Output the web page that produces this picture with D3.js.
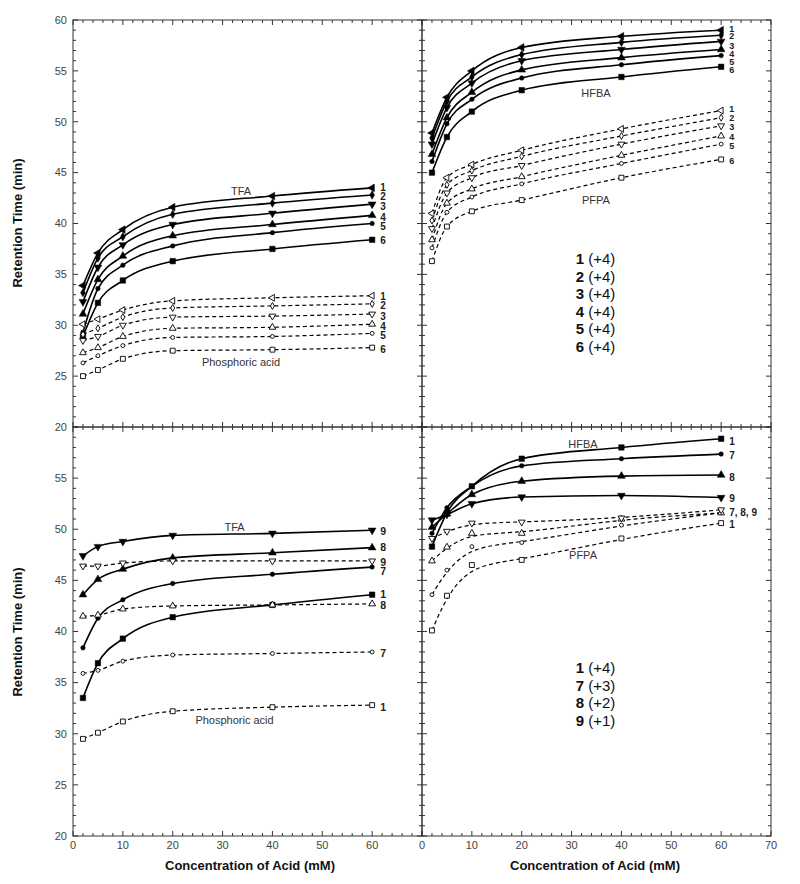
<!DOCTYPE html>
<html>
<head>
<meta charset="utf-8">
<script src="https://cdn.jsdelivr.net/npm/d3@7"></script>
<style>
body { margin: 0; background: #fff; }
text { font-family: Arial, "Liberation Sans", sans-serif; }
</style>
</head>
<body>
<div id="chart"></div>
<script>
// acid concentration (mM)
var conc = [2, 5, 10, 20, 40, 60];

var compoundsTop = ['1', '2', '3', '4', '5', '6'];
var compoundsBottom = ['1', '7', '8', '9'];
var chargeTop = ['(+4)', '(+4)', '(+4)', '(+4)', '(+4)', '(+4)'];
var chargeBottom = ['(+4)', '(+3)', '(+2)', '(+1)'];

// retention time (min), compounds 1-6
var tfaTop = [
    [33.9, 37.1, 39.4, 41.6, 42.7, 43.5],
    [33.2, 36.6, 38.7, 40.9, 42.0, 42.8],
    [32.3, 35.7, 37.9, 39.9, 41.0, 41.9],
    [31.1, 34.5, 36.8, 38.8, 39.9, 40.8],
    [29.3, 33.6, 35.9, 37.8, 39.1, 40.0],
    [28.9, 32.2, 34.4, 36.3, 37.5, 38.4]
];
var phosTop = [
    [30.1, 30.6, 31.5, 32.4, 32.7, 32.9],
    [29.1, 29.7, 30.8, 31.7, 31.9, 32.1],
    [28.5, 28.9, 30.0, 30.8, 30.9, 31.1],
    [27.3, 27.8, 28.9, 29.7, 29.8, 30.1],
    [26.3, 27.0, 28.0, 28.8, 28.9, 29.2],
    [25.0, 25.6, 26.7, 27.5, 27.6, 27.8]
];
var hfbaTop = [
    [48.9, 52.4, 55.0, 57.3, 58.4, 59.0],
    [48.4, 52.0, 54.4, 56.6, 57.8, 58.5],
    [47.8, 51.4, 53.8, 56.0, 57.1, 57.9],
    [46.8, 50.4, 52.9, 55.1, 56.3, 57.1],
    [46.1, 49.8, 52.2, 54.3, 55.6, 56.5],
    [45.0, 48.5, 51.0, 53.1, 54.4, 55.4]
];
var pfpaTop = [
    [41.0, 44.5, 45.8, 47.2, 49.3, 51.1],
    [40.3, 43.8, 45.2, 46.6, 48.6, 50.4],
    [39.5, 43.0, 44.5, 45.7, 47.8, 49.6],
    [38.4, 42.0, 43.4, 44.6, 46.7, 48.6],
    [37.6, 41.1, 42.6, 43.9, 45.9, 47.8],
    [36.3, 39.7, 41.2, 42.3, 44.5, 46.3]
];

// retention time (min), compounds 1, 7, 8, 9
var tfaBottom = [
    [33.5, 36.9, 39.3, 41.4, 42.6, 43.6],
    [38.4, 41.3, 43.1, 44.7, 45.6, 46.3],
    [43.6, 45.1, 46.1, 47.2, 47.7, 48.2],
    [47.4, 48.3, 48.8, 49.4, 49.6, 49.9]
];
var phosBottom = [
    [29.5, 30.1, 31.2, 32.2, 32.6, 32.8],
    [35.9, 36.2, 37.1, 37.7, 37.85, 38.0],
    [41.5, 41.6, 42.2, 42.5, 42.6, 42.7],
    [46.4, 46.4, 46.7, 46.9, 46.9, 46.9]
];
var hfbaBottom = [
    [48.3, 51.6, 54.2, 56.9, 58.0, 58.85],
    [49.6, 52.1, 54.2, 56.2, 56.9, 57.35],
    [50.2, 51.5, 53.4, 54.7, 55.2, 55.3],
    [50.9, 51.45, 52.5, 53.15, 53.3, 53.1]
];
var pfpaBottom = [
    [40.1, 43.5, 46.5, 47.0, 49.1, 50.6],
    [43.6, 46.0, 48.3, 48.7, 50.4, 51.6],
    [46.9, 48.25, 49.6, 49.6, 51.0, 51.6],
    [49.1, 49.8, 50.6, 50.7, 51.1, 51.9]
];

// where the compound numbers sit at the right end (min)
var tagsTfaTop = [43.5, 42.7, 41.7, 40.6, 39.7, 38.3];
var tagsPhosTop = [32.85, 31.9, 30.9, 29.9, 29.0, 27.6];
var tagsHfbaTop = [59.1, 58.4, 57.5, 56.7, 55.9, 55.1];
var tagsPfpaTop = [51.3, 50.4, 49.5, 48.5, 47.6, 46.2];
var tagsTfaBottom = [43.6, 45.9, 48.2, 49.8];
var tagsPhosBottom = [32.6, 37.9, 42.6, 46.8];
var tagsHfbaBottom = [58.6, 57.2, 55.1, 53.05];
var tagsPfpaBottom = [50.5, 51.6];
var namesPfpaBottom = ['1', '7, 8, 9'];

var yTicks = [20, 25, 30, 35, 40, 45, 50, 55, 60];
var xTicks = [0, 10, 20, 30, 40, 50, 60, 70];

var shapesTop = ['left', 'diamond', 'down', 'up', 'circle', 'square'];
var shapesBottom = ['square', 'circle', 'up', 'down'];

var symbolType = {
    left: d3.symbolTriangle, down: d3.symbolTriangle, up: d3.symbolTriangle,
    diamond: d3.symbolDiamond, circle: d3.symbolCircle, square: d3.symbolSquare
};
var symbolTurn = { left: -90, down: 180, up: 0, diamond: 0, circle: 0, square: 0 };
var filledSize = { left: 26, down: 26, up: 26, diamond: 20, circle: 16, square: 30 };
var hollowSize = { left: 20, down: 20, up: 20, diamond: 14, circle: 12, square: 24 };

function group(values, names, tags, shapes, filled, curve) {
    return values.map(function(v, i) {
        return { values: v, name: names[i], tag: tags[i], shape: shapes[i], filled: filled, curve: curve };
    });
}

var panels = [
    {
        x0: 73, x1: 422, y0: 20, y1: 427, tagSize: 10,
        series: group(tfaTop, compoundsTop, tagsTfaTop, shapesTop, true, d3.curveMonotoneX)
            .concat(group(phosTop, compoundsTop, tagsPhosTop, shapesTop, false, d3.curveMonotoneX)),
        notes: [['TFA', 33.7, 43.2], ['Phosphoric acid', 33.7, 26.4]],
        yLabels: yTicks, xLabels: []
    },
    {
        x0: 422, x1: 771, y0: 20, y1: 427, tagSize: 9,
        series: group(hfbaTop, compoundsTop, tagsHfbaTop, shapesTop, true, d3.curveMonotoneX)
            .concat(group(pfpaTop, compoundsTop, tagsPfpaTop, shapesTop, false, d3.curveMonotoneX)),
        notes: [['HFBA', 34.9, 52.8], ['PFPA', 34.9, 42.3]],
        legend: { names: compoundsTop, charges: chargeTop, top: 259 },
        yLabels: [], xLabels: []
    },
    {
        x0: 73, x1: 422, y0: 427, y1: 836, tagSize: 10.5,
        series: group(tfaBottom, compoundsBottom, tagsTfaBottom, shapesBottom, true, d3.curveMonotoneX)
            .concat(group(phosBottom, compoundsBottom, tagsPhosBottom, shapesBottom, false, d3.curveMonotoneX)),
        notes: [['TFA', 32.4, 50.2], ['Phosphoric acid', 32.4, 31.3]],
        yLabels: yTicks.slice(0, 8), xLabels: xTicks.slice(0, 7)
    },
    {
        x0: 422, x1: 771, y0: 427, y1: 836, tagSize: 10,
        series: group(hfbaBottom, compoundsBottom, tagsHfbaBottom, shapesBottom, true, d3.curveMonotoneX)
            .concat(group(pfpaBottom, namesPfpaBottom, tagsPfpaBottom, shapesBottom, false, d3.curveBasis)),
        notes: [['HFBA', 32.3, 58.3], ['PFPA', 32.3, 47.5]],
        legend: { names: compoundsBottom, charges: chargeBottom, top: 668 },
        yLabels: [], xLabels: xTicks
    }
];

var svg = d3.select('#chart')
    .append('svg')
    .attr('width', 800)
    .attr('height', 884);

var axisColor = '#333';

panels.forEach(function(p) {
    var x = d3.scaleLinear().domain([0, 70]).range([p.x0, p.x1]);
    var y = d3.scaleLinear().domain([20, 60]).range([p.y1, p.y0]);
    var g = svg.append('g');

    // frame with inward ticks on every side
    g.append('rect')
        .attr('x', p.x0).attr('y', p.y0)
        .attr('width', p.x1 - p.x0).attr('height', p.y1 - p.y0)
        .attr('fill', 'none').attr('stroke', axisColor).attr('stroke-width', 1);

    var xt = d3.range(0, 71, 2);
    var yt = d3.range(20, 61, 1);
    g.selectAll('.xt').data(xt).enter().append('path')
        .attr('d', function(d) {
            var len = d % 10 === 0 ? 5 : 3;
            var px = x(d);
            return 'M' + px + ',' + p.y1 + 'v' + (-len) + 'M' + px + ',' + p.y0 + 'v' + len;
        })
        .attr('stroke', axisColor).attr('stroke-width', 1);
    g.selectAll('.yt').data(yt).enter().append('path')
        .attr('d', function(d) {
            var len = d % 5 === 0 ? 5 : 3;
            var py = y(d);
            return 'M' + p.x0 + ',' + py + 'h' + len + 'M' + p.x1 + ',' + py + 'h' + (-len);
        })
        .attr('stroke', axisColor).attr('stroke-width', 1);

    g.selectAll('.yl').data(p.yLabels).enter().append('text')
        .attr('x', p.x0 - 6).attr('y', function(d) { return y(d); })
        .attr('dy', '0.35em').attr('text-anchor', 'end')
        .attr('font-size', 11).attr('fill', '#444')
        .text(function(d) { return d; });
    g.selectAll('.xl').data(p.xLabels).enter().append('text')
        .attr('x', function(d) { return x(d); }).attr('y', p.y1 + 13)
        .attr('text-anchor', 'middle')
        .attr('font-size', 11).attr('fill', '#444')
        .text(function(d) { return d; });

    // curves
    p.series.forEach(function(s) {
        var pts = conc.map(function(c, i) { return [c, s.values[i]]; });
        var line = d3.line()
            .x(function(d) { return x(d[0]); })
            .y(function(d) { return y(d[1]); })
            .curve(s.curve);
        g.append('path')
            .attr('d', line(pts))
            .attr('fill', 'none')
            .attr('stroke', '#000')
            .attr('stroke-width', s.filled ? 1.6 : 1.2)
            .attr('stroke-dasharray', s.filled ? null : '4,3');
    });

    // markers
    p.series.forEach(function(s) {
        var size = s.filled ? filledSize[s.shape] : hollowSize[s.shape];
        var sym = d3.symbol().type(symbolType[s.shape]).size(size);
        g.selectAll(null).data(s.values).enter().append('path')
            .attr('d', sym)
            .attr('transform', function(d, i) {
                return 'translate(' + x(conc[i]) + ',' + y(d) + ') rotate(' + symbolTurn[s.shape] + ')';
            })
            .attr('fill', s.filled ? '#000' : '#fff')
            .attr('stroke', '#000')
            .attr('stroke-width', s.filled ? 0.5 : 0.9);
    });

    // compound numbers at the right end
    p.series.forEach(function(s) {
        if (s.tag == null) return;
        g.append('text')
            .attr('x', x(60) + 8).attr('y', y(s.tag))
            .attr('dy', '0.35em')
            .attr('font-size', p.tagSize).attr('font-weight', 'bold').attr('fill', '#222')
            .text(s.name);
    });

    g.selectAll('.note').data(p.notes).enter().append('text')
        .attr('x', function(d) { return x(d[1]); })
        .attr('y', function(d) { return y(d[2]); })
        .attr('dy', '0.35em').attr('text-anchor', 'middle')
        .attr('font-size', 11).attr('fill', '#333')
        .text(function(d) { return d[0]; });

    if (p.legend) {
        var lg = g.selectAll('.lg').data(p.legend.names).enter().append('text')
            .attr('x', x(34.8)).attr('y', function(d, i) { return p.legend.top + i * 17.5; })
            .attr('dy', '0.35em').attr('text-anchor', 'middle')
            .attr('font-size', 15).attr('fill', '#111');
        lg.append('tspan').attr('font-weight', 'bold').text(function(d) { return d; });
        lg.append('tspan').text(function(d, i) { return ' ' + p.legend.charges[i]; });
    }
});

// axis titles
[223, 632].forEach(function(cy) {
    svg.append('text')
        .attr('transform', 'translate(22,' + cy + ') rotate(-90)')
        .attr('text-anchor', 'middle')
        .attr('font-size', 13).attr('font-weight', 'bold').attr('fill', '#111')
        .text('Retention Time (min)');
});
[250, 595].forEach(function(cx) {
    svg.append('text')
        .attr('x', cx).attr('y', 870)
        .attr('text-anchor', 'middle')
        .attr('font-size', 13).attr('font-weight', 'bold').attr('fill', '#111')
        .text('Concentration of Acid (mM)');
});
</script>
</body>
</html>
